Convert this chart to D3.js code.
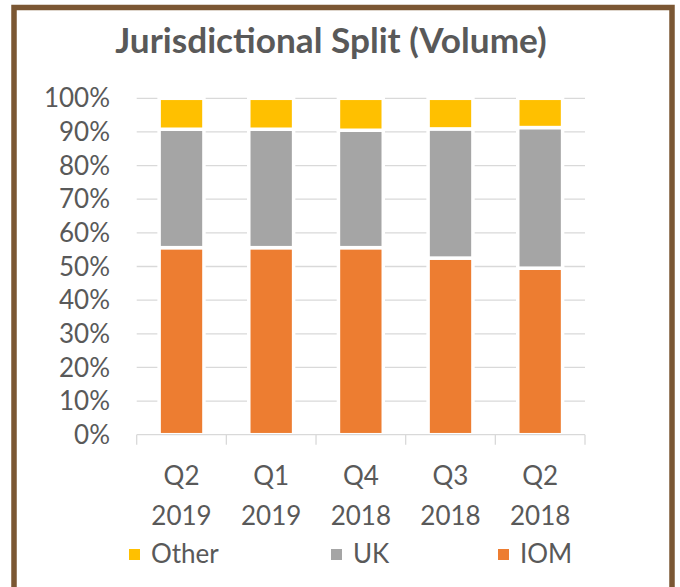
<!DOCTYPE html>
<html>
<head>
<meta charset="utf-8">
<script src="https://cdn.jsdelivr.net/npm/d3@7"></script>
<style>
  html, body { margin: 0; padding: 0; background: #fff; }
  svg text { font-family: Lato, "Open Sans", sans-serif; fill: #595959; }
</style>
</head>
<body>
<svg id="chart"></svg>
<script>
const width = 680, height = 587

// data
const quarters = ["Q2", "Q1", "Q4", "Q3", "Q2"]
const years = ["2019", "2019", "2018", "2018", "2018"]
const iom = [55.6, 55.6, 55.6, 52.5, 49.5]
const uk = [35.2, 35.2, 34.9, 38.4, 41.8]
const other = [9.2, 9.2, 9.5, 9.1, 8.7]
const seriesNames = ["IOM", "UK", "Other"]
const legendOrder = ["Other", "UK", "IOM"]
const yTicks = [0, 10, 20, 30, 40, 50, 60, 70, 80, 90, 100]

const colors = { IOM: "#ED7D31", UK: "#A5A5A5", Other: "#FFC000" }

const svg = d3.select("#chart").attr("width", width).attr("height", height)

// brown frame
svg.append("rect")
    .attr("x", 14).attr("y", 7.5)
    .attr("width", 658).attr("height", 590)
    .attr("fill", "#fff")
    .attr("stroke", "#7B5733")
    .attr("stroke-width", 5.5)

const plot = { left: 136.7, right: 585, top: 98.3, bottom: 434.7 }

const rows = quarters.map((q, i) => ({ key: i, IOM: iom[i], UK: uk[i], Other: other[i] }))
const stacked = d3.stack().keys(seriesNames)(rows)

let x = d3.scaleBand()
    .domain(rows.map(d => d.key))
    .range([plot.left, plot.right])
    .paddingInner(0.5)
    .paddingOuter(0.25)
let xOuter = d3.scaleBand().domain(rows.map(d => d.key)).range([plot.left, plot.right])
let y = d3.scaleLinear().domain([0, 100]).range([plot.bottom, plot.top])

// gridlines
svg.append("g")
    .selectAll("line")
    .data(yTicks.filter(t => t > 0))
    .enter()
    .append("line")
    .attr("x1", plot.left).attr("x2", plot.right)
    .attr("y1", d => y(d)).attr("y2", d => y(d))
    .attr("stroke", "#D9D9D9")
    .attr("stroke-width", 1.3)

// y tick labels
svg.append("g")
    .selectAll("text")
    .data(yTicks)
    .enter()
    .append("text")
    .attr("x", 110)
    .attr("y", d => y(d))
    .attr("dy", "0.35em")
    .attr("text-anchor", "end")
    .style("font-size", "26px")
    .text(d => d + "%")

// bars
svg.append("g")
    .selectAll("g")
    .data(stacked)
    .enter()
    .append("g")
    .attr("fill", d => colors[d.key])
    .selectAll("rect")
    .data(d => d)
    .enter()
    .append("rect")
    .attr("x", d => x(d.data.key))
    .attr("width", x.bandwidth())
    .attr("y", d => y(d[1]))
    .attr("height", d => y(d[0]) - y(d[1]))
    .attr("stroke", "#fff")
    .attr("stroke-width", 3.5)

// x axis line with ticks between categories
const xAxis = svg.append("g")
xAxis.append("line")
    .attr("x1", plot.left).attr("x2", plot.right)
    .attr("y1", plot.bottom).attr("y2", plot.bottom)
    .attr("stroke", "#D9D9D9").attr("stroke-width", 1.3)
const tickXs = rows.map(d => xOuter(d.key)).concat([plot.right])
xAxis.selectAll(".tick")
    .data(tickXs)
    .enter()
    .append("line")
    .attr("class", "tick")
    .attr("x1", d => d).attr("x2", d => d)
    .attr("y1", plot.bottom).attr("y2", plot.bottom + 10)
    .attr("stroke", "#D9D9D9").attr("stroke-width", 1.3)

// category labels (two lines)
const catLabels = svg.append("g")
    .selectAll("text")
    .data(rows)
    .enter()
    .append("text")
    .attr("text-anchor", "middle")
    .style("font-size", "26px")
catLabels.append("tspan")
    .attr("x", d => xOuter(d.key) + xOuter.bandwidth() / 2)
    .attr("y", 485)
    .text(d => quarters[d.key])
catLabels.append("tspan")
    .attr("x", d => xOuter(d.key) + xOuter.bandwidth() / 2)
    .attr("y", 525)
    .text(d => years[d.key])

// legend
const legendX = [129, 331, 498]
const legend = svg.append("g")
    .selectAll("g")
    .data(legendOrder)
    .enter()
    .append("g")
    .attr("transform", (d, i) => `translate(${legendX[i]},0)`)
legend.append("rect")
    .attr("x", 0).attr("y", 549)
    .attr("width", 11).attr("height", 11)
    .attr("fill", d => colors[d])
legend.append("text")
    .attr("x", 22).attr("y", 563)
    .style("font-size", "26px")
    .text(d => d)

// title, sized to span the same width as the original
const title = svg.append("text")
    .attr("x", 331).attr("y", 53)
    .attr("text-anchor", "middle")
    .style("font-weight", "bold")
    .style("font-size", "30px")
    .text("Jurisdictional Split (Volume)")
const titleLen = title.node().getComputedTextLength()
title.style("font-size", (30 * 432 / titleLen).toFixed(1) + "px")
</script>
</body>
</html>
